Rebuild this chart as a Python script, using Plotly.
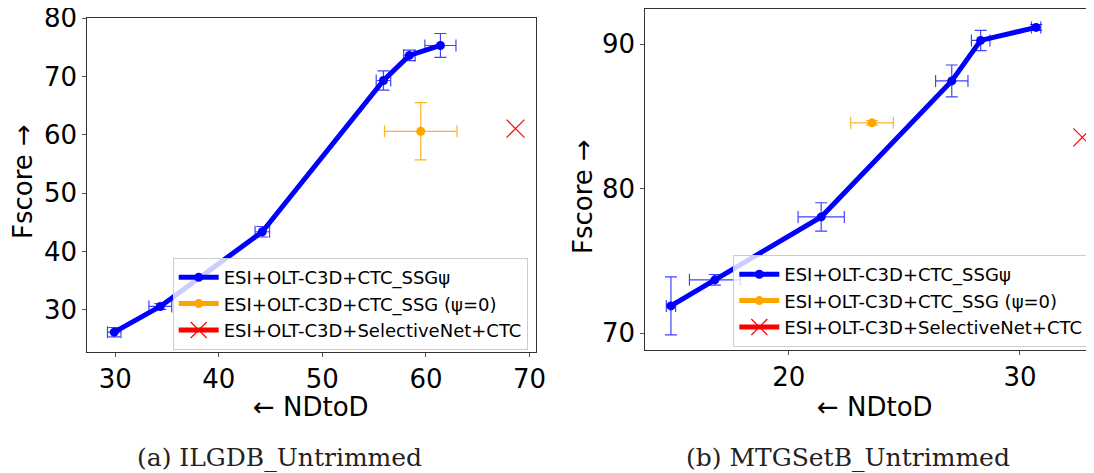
import plotly.graph_objects as go

# ---- Data: (a) ILGDB_Untrimmed ----
a_ssg_x = [29.9, 34.35, 44.2, 55.9, 58.4, 61.4]
a_ssg_y = [26.2, 30.6, 43.4, 69.3, 73.6, 75.3]
a_ssg_xerr = [0.65, 1.1, 0.7, 0.7, 0.55, 1.5]
a_ssg_yerr = [0.8, 0.5, 0.9, 1.65, 0.9, 2.05]
a_psi0_x = [59.5]
a_psi0_y = [60.6]
a_psi0_xerr = [3.5]
a_psi0_yerr = [4.9]
a_sel_x = [68.65]
a_sel_y = [61.05]

# ---- Data: (b) MTGSetB_Untrimmed ----
b_ssg_x = [14.9, 16.8, 21.4, 27.05, 28.3, 30.7]
b_ssg_y = [71.9, 73.7, 78.05, 87.45, 90.25, 91.15]
b_ssg_xerr = [0.2, 1.1, 1.0, 0.7, 0.4, 0.2]
b_ssg_yerr = [2.0, 0.37, 0.98, 1.1, 0.7, 0.2]
b_psi0_x = [23.6]
b_psi0_y = [84.55]
b_psi0_xerr = [0.92]
b_psi0_yerr = [0.15]
b_sel_x = [32.7]
b_sel_y = [83.55]

names = ["ESI+OLT-C3D+CTC_SSGψ", "ESI+OLT-C3D+CTC_SSG (ψ=0)", "ESI+OLT-C3D+SelectiveNet+CTC"]
a_xticks = [30, 40, 50, 60, 70]
a_yticks = [30, 40, 50, 60, 70, 80]
b_xticks = [20, 30]
b_yticks = [70, 80, 90]
captions = ["(a) ILGDB_Untrimmed", "(b) MTGSetB_Untrimmed"]

BLUE = "#0000ff"
ORANGE = "#ffa500"
RED = "#ff0000"

W, H = 1094, 473
OFF = 8  # page body margin compensation (px)


def px_x(p):
    return (p - OFF) / W


def px_y(p):
    return 1 - (p - OFF) / H


fig = go.Figure()


def add_panel(xa, ya, leg, sx, sy, sxe, sye, ox, oy, oxe, oye, rx, ry):
    fig.add_trace(go.Scatter(
        x=sx, y=sy, mode="lines+markers", name=names[0], legendgroup=leg + "a",
        line=dict(color=BLUE, width=5), marker=dict(color=BLUE, size=9),
        error_x=dict(type="data", array=sxe, color="rgba(0,0,255,0.75)", thickness=1.2, width=6),
        error_y=dict(type="data", array=sye, color="rgba(0,0,255,0.75)", thickness=1.2, width=6),
        xaxis=xa, yaxis=ya, legend=leg))
    fig.add_trace(go.Scatter(
        x=ox, y=oy, mode="lines+markers", name=names[1], legendgroup=leg + "b",
        line=dict(color=ORANGE, width=5), marker=dict(color=ORANGE, size=9),
        error_x=dict(type="data", array=oxe, color="rgba(255,165,0,0.85)", thickness=1.2, width=6),
        error_y=dict(type="data", array=oye, color="rgba(255,165,0,0.85)", thickness=1.2, width=6),
        xaxis=xa, yaxis=ya, legend=leg))
    fig.add_trace(go.Scatter(
        x=rx, y=ry, mode="lines+markers", name=names[2], legendgroup=leg + "c",
        line=dict(color=RED, width=5),
        marker=dict(symbol="x-thin", color=RED, size=18, line=dict(color=RED, width=1.2)),
        xaxis=xa, yaxis=ya, legend=leg))


add_panel("x", "y", "legend", a_ssg_x, a_ssg_y, a_ssg_xerr, a_ssg_yerr,
          a_psi0_x, a_psi0_y, a_psi0_xerr, a_psi0_yerr, a_sel_x, a_sel_y)
add_panel("x2", "y2", "legend2", b_ssg_x, b_ssg_y, b_ssg_xerr, b_ssg_yerr,
          b_psi0_x, b_psi0_y, b_psi0_xerr, b_psi0_yerr, b_sel_x, b_sel_y)

tickfont = dict(family="DejaVu Sans", size=26, color="black")
axcommon = dict(showgrid=False, zeroline=False, showline=True, linecolor="#333333", linewidth=1,
                ticks="outside", ticklen=4, tickcolor="#555555", tickfont=tickfont, automargin=False,
                ticklabeloverflow="allow")

legfont = dict(family="DejaVu Sans", size=18, color="black")
legcommon = dict(font=legfont, bgcolor="rgba(255,255,255,0.8)", bordercolor="#cccccc", borderwidth=1,
                 xanchor="left", yanchor="top", tracegroupgap=0, itemwidth=40)

fig.update_layout(
    width=W, height=H,
    margin=dict(l=0, r=0, t=0, b=0, pad=0, autoexpand=False),
    paper_bgcolor="white", plot_bgcolor="white",
    xaxis=dict(domain=[px_x(87.3), px_x(535.7)], range=[27.3, 70.6], tickvals=a_xticks, anchor="y",
               mirror=True, **axcommon),
    yaxis=dict(domain=[px_y(352), px_y(17.7)], range=[22.8, 80.06], tickvals=a_yticks, anchor="x",
               mirror=True, **axcommon),
    xaxis2=dict(domain=[px_x(645.3), 1.0], range=[13.79, 33.55], tickvals=b_xticks, anchor="y2",
                mirror=True, **axcommon),
    yaxis2=dict(domain=[px_y(350), px_y(9.3)], range=[68.85, 92.4], tickvals=b_yticks, anchor="x2",
                mirror=False, **axcommon),
    legend=dict(x=px_x(172.7), y=px_y(258), **legcommon),
    legend2=dict(x=px_x(733.3), y=px_y(255), **legcommon),
    showlegend=True,
)

titlefont = dict(family="DejaVu Sans", size=26, color="black")
capfont = dict(family="DejaVu Serif", size=25, color="#222222")
ann = [
    dict(text="← NDtoD", x=px_x(311), y=px_y(407), font=titlefont),
    dict(text="← NDtoD", x=px_x(875), y=px_y(407), font=titlefont),
    dict(text="Fscore →", x=px_x(23), y=px_y(182), textangle=-90, font=titlefont),
    dict(text="Fscore →", x=px_x(583), y=px_y(197), textangle=-90, font=titlefont),
    dict(text=captions[0], x=px_x(279), y=px_y(457), font=capfont),
    dict(text=captions[1], x=px_x(848), y=px_y(457), font=capfont),
]
for a in ann:
    fig.add_annotation(xref="paper", yref="paper", showarrow=False, xanchor="center", yanchor="middle", **a)

fig.write_html("out.html")
